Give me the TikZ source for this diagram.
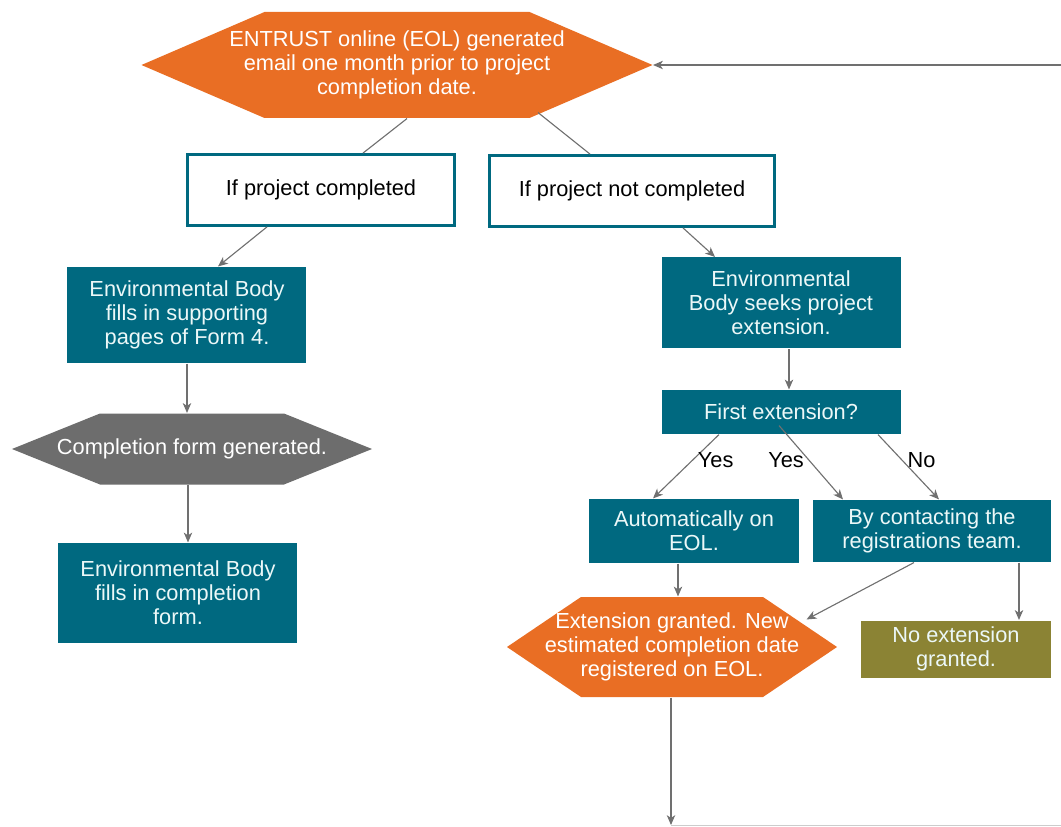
\documentclass[tikz,border=0pt]{standalone}
\usepackage{fontspec}
\setmainfont{Liberation Sans}
\usetikzlibrary{arrows, arrows.meta, positioning}

\definecolor{eolorange}{RGB}{233,110,36}
\definecolor{eolteal}{RGB}{0,105,128}
\definecolor{eolgrey}{RGB}{109,109,109}
\definecolor{eololive}{RGB}{139,131,52}
\definecolor{eoltext}{RGB}{236,248,248}
\definecolor{linegrey}{RGB}{112,112,112}

\tikzset{
    hexbox/.style 2 args = {
        fill = white,
        text = white,
        align = center,
        path picture = {
            \fill[#1] (path picture bounding box.west)
                -- ([xshift=#2]path picture bounding box.north west)
                -- ([xshift=-#2]path picture bounding box.north east)
                -- (path picture bounding box.east)
                -- ([xshift=-#2]path picture bounding box.south east)
                -- ([xshift=#2]path picture bounding box.south west)
                -- cycle;
        }
    }
}

\begin{document}
\begin{tikzpicture}[
            > = {Stealth[length=7pt, width=6pt, inset=2pt]}, % arrow head style
            on grid, % offsets are taken centre to centre
            font = \fontsize{15.5}{17}\selectfont,
            thick % line style
        ]

        \tikzstyle{process}=[
            fill = eolteal,
            text = eoltext,
            align = center,
            inner sep = 0pt
        ]
        \tikzstyle{choice}=[
            draw = eolteal,
            line width = 2pt,
            fill = white,
            align = center
        ]

        \useasboundingbox (-9.925, 1.625) rectangle (16.6, -19.05);

        \node[hexbox={eolorange}{3.075cm}, minimum width=12.775cm, minimum height=2.65cm] (email) {ENTRUST online (EOL) generated\\email one month prior to project\\completion date.};
        \node[choice, minimum width=6.675cm, minimum height=1.775cm] (done) [below left=3.125cm and 1.9cm of email] {If project completed};
        \node[choice, minimum width=7.125cm, minimum height=1.775cm] (notdone) [below right=3.15cm and 5.875cm of email] {If project not completed};

        \node[process, minimum width=5.975cm, minimum height=2.4cm] (form4) [below left=3.125cm and 3.35cm of done] {Environmental Body\\fills in supporting\\pages of Form 4.};
        \node[hexbox={eolgrey}{2.2cm}, minimum width=9cm, minimum height=1.775cm] (generated) [below right=3.35cm and 0.125cm of form4] {Completion form generated.};
        \node[process, minimum width=5.975cm, minimum height=2.5cm] (fillform) [below left=3.6cm and 0.35cm of generated] {Environmental Body\\fills in completion\\form.};

        \node[process, minimum width=5.975cm, minimum height=2.275cm] (seek) [below right=2.8cm and 3.725cm of notdone] {Environmental\\Body seeks project\\extension.};
        \node[process, minimum width=5.975cm, minimum height=1.1cm] (first) [below=2.725cm of seek] {First extension?};
        \node[process, minimum width=5.25cm, minimum height=1.6cm] (auto) [below left=2.975cm and 2.175cm of first] {Automatically on\\EOL.};
        \node[process, minimum width=5.95cm, minimum height=1.55cm] (contact) [below right=2.975cm and 3.775cm of first] {By contacting the\\registrations team.};
        \node[hexbox={eolorange}{1.85cm}, minimum width=8.25cm, minimum height=2.5cm] (granted) [below left=2.9cm and 0.55cm of auto] {Extension granted. New\\estimated completion date\\registered on EOL.};
        \node[process, fill=eololive, minimum width=4.75cm, minimum height=1.425cm] (noext) [below right=2.95cm and 0.6cm of contact] {No extension\\granted.};

        \coordinate[below left=4.45cm and 0.025cm of granted] (loopB);
        \coordinate[right=9.775cm of loopB] (loopC);
        \coordinate[right=16.6cm of email] (loopT);

        % email branches
        \path[linegrey] ([xshift=0.25cm]email.south) edge ([xshift=1.05cm]done.north);
        \path[linegrey] ([xshift=3.525cm, yshift=0.15cm]email.south) edge ([xshift=-1.05cm]notdone.north);

        % completed paths
        \path[->, linegrey] ([xshift=-1.35cm]done.south) edge ([xshift=0.775cm]form4.north);
        \path[->, linegrey] (form4.south) edge (form4.south |- generated.north);
        \path[->, linegrey] ([xshift=-0.1cm]generated.south) edge ([xshift=-0.1cm]generated.south |- fillform.north);

        % not completed paths
        \path[->, linegrey] ([xshift=1.275cm]notdone.south) edge ([xshift=-1.65cm]seek.north);
        \path[->, linegrey] ([xshift=0.2cm]seek.south) edge ([xshift=0.2cm]seek.south |- first.north);
        \path[->, linegrey] ([xshift=-1.55cm]first.south) edge node[right, pos=0.4, text=black] {Yes} ([xshift=-1.025cm]auto.north);
        \path[->, linegrey] ([xshift=-0.05cm, yshift=0.225cm]first.south) edge node[left, pos=0.47, text=black] {Yes} ([xshift=-2.225cm]contact.north);
        \path[->, linegrey] ([xshift=2.425cm]first.south) edge node[right, pos=0.4, text=black] {No} ([xshift=0.175cm]contact.north);
        \path[->, linegrey] ([xshift=-0.4cm]auto.south) edge ([xshift=-0.4cm]auto.south |- granted.north);
        \path[->, linegrey] ([xshift=-0.45cm]contact.south) edge ([xshift=-0.775cm, yshift=-0.575cm]granted.north east);
        \path[->, linegrey] ([xshift=2.175cm]contact.south) edge ([xshift=2.175cm]contact.south |- noext.north);

        % back to the start
        \path[->, linegrey] ([xshift=-0.025cm]granted.south) edge (loopB);
        \path[black!20, semithick] (loopB) edge (loopC);
        \path[->, linegrey] (loopT) edge (email.east);

    \end{tikzpicture}
\end{document}
